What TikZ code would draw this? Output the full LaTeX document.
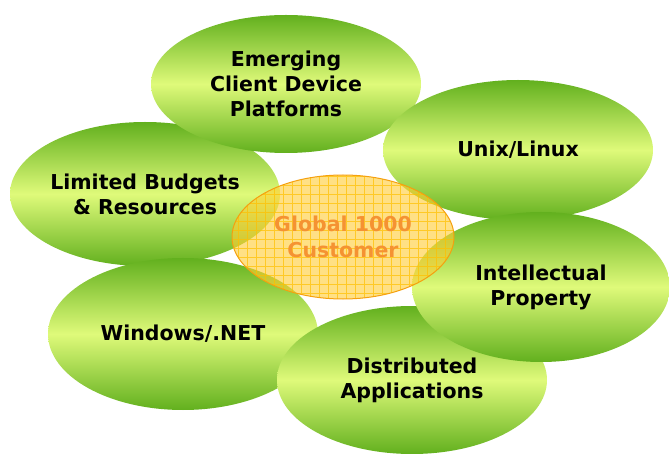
\documentclass[tikz,border=0pt]{standalone}
\usepackage{fontspec}
\setmainfont{DejaVu Sans}
\usepackage{xcolor}
\definecolor{leafdark}{HTML}{62B01E}
\definecolor{leaflight}{HTML}{DFFA7A}
\definecolor{hubfill}{HTML}{FFCC33}
\definecolor{hubline}{HTML}{F5A00F}
\definecolor{hubgrid}{HTML}{FFC000}
\definecolor{hubtext}{HTML}{F59232}
\usepackage{tikz}
\usetikzlibrary{shapes.geometric}
\tikzset{
  leaf/.style={ellipse,inner sep=0pt,outer sep=0pt,minimum width=270pt,minimum height=144pt,
    top color=leafdark,bottom color=leafdark,middle color=leaflight,align=center,
    font=\fontsize{20.5}{25}\selectfont\bfseries},
  hub/.style={ellipse,inner sep=0pt,minimum width=222pt,minimum height=124pt,draw=hubline,line width=1pt,
    fill=hubfill,fill opacity=0.6,text opacity=1,text=hubtext,align=center,
    font=\fontsize{20.5}{26}\selectfont\bfseries,
    path picture={\draw[hubgrid,line width=0.7pt,draw opacity=0.7]
      (path picture bounding box.south west) grid[step=9pt] (path picture bounding box.north east);}},
}
\begin{document}
\begin{tikzpicture}[x=1pt,y=-1pt]
\useasboundingbox (0,0) rectangle (669,454);
\node[leaf](budgets) at (145,194){Limited Budgets\\\& Resources};
\node[leaf,minimum height=138pt](devices) at (286,84){Emerging\\Client Device\\Platforms};
\node[leaf,minimum height=140pt](unix) at (518,150){Unix/Linux};
\node[leaf,minimum height=152pt](windows) at (183,334){Windows/.NET};
\node[leaf,minimum height=148pt](apps) at (412,380){Distributed\\Applications};
\node[leaf,minimum width=258pt,minimum height=150pt](ip) at (541,287){Intellectual\\Property};
\node[hub](customer) at (343,237){Global 1000\\Customer};
\end{tikzpicture}
\end{document}
